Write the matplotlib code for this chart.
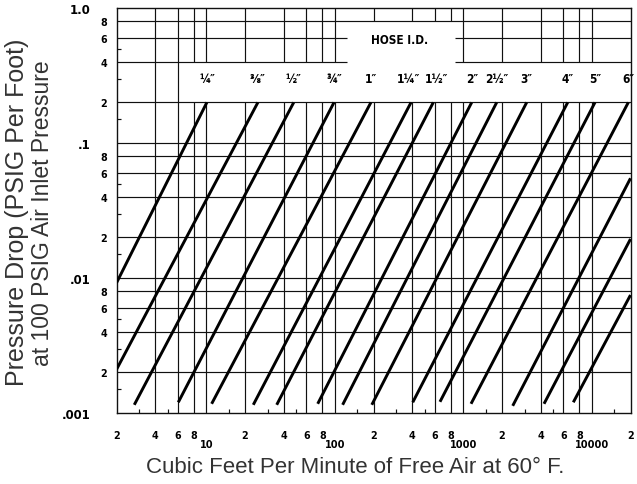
from __future__ import annotations

import matplotlib

matplotlib.use("Agg")
import matplotlib.pyplot as plt
from matplotlib import font_manager
from matplotlib.transforms import offset_copy


# hose sizes, one label over the top end of each labelled line
HOSE_LABELS = ["¼″", "⅜″", "½″", "¾″", "1″", "1¼″", "1½″", "2″", "2½″", "3″", "4″", "5″", "6″"]

# straight runs on log-log paper: low end and high end of each line (cfm, psig per foot)
# the last three lines carry no label and leave through the right edge
CFM_LOW = [2, 2, 2.75, 6.05, 11.0, 23.2, 35.3, 73.6, 115, 194, 404, 658, 1148, 2423, 4246, 7176]
PSI_LOW = [0.0092, 0.0021, 0.00115, 0.0012, 0.00117, 0.00115, 0.00115, 0.00117,
           0.00115, 0.00115, 0.0012, 0.00121, 0.00117, 0.00113, 0.00117, 0.0012]
CFM_HIGH = [10.1, 25.2, 47.9, 98.6, 191, 392, 584, 1162, 1819, 3113, 6493, 10586, 19230,
            20000, 20000, 20000]
PSI_HIGH = [0.2, 0.2, 0.2, 0.2, 0.2, 0.2, 0.2, 0.2, 0.2, 0.2, 0.2, 0.2, 0.2,
            0.0548, 0.01945, 0.00748]

X_DIGIT_TICKS = [2, 4, 6, 8, 20, 40, 60, 80, 200, 400, 600, 800, 2000, 4000, 6000, 8000, 20000]
X_DIGIT_LABELS = ["2", "4", "6", "8", "2", "4", "6", "8", "2", "4", "6", "8", "2", "4", "6", "8", "2"]
X_DECADE_TICKS = [10, 100, 1000, 10000]
X_DECADE_LABELS = ["10", "100", "1000", "10000"]

Y_DIGIT_TICKS = [0.002, 0.004, 0.006, 0.008, 0.02, 0.04, 0.06, 0.08, 0.2, 0.4, 0.6, 0.8]
Y_DIGIT_LABELS = ["2", "4", "6", "8", "2", "4", "6", "8", "2", "4", "6", "8"]
Y_DECADE_TICKS = [0.001, 0.01, 0.1, 1.0]
Y_DECADE_LABELS = [".001", ".01", ".1", "1.0"]

INK = "#111111"
TITLE_INK = "#333333"


def pick_lettering() -> tuple[list[str], str, bool]:
    """Narrow bold face for the chart lettering, if one is installed."""
    narrow = ("condensed", "semi-condensed", "extra-condensed", "ultra-condensed")
    found = []
    for f in font_manager.fontManager.ttflist:
        stretch = f.stretch if isinstance(f.stretch, str) else ""
        if stretch in narrow or "Narrow" in f.name or "Condensed" in f.name:
            found.append(f)
    if not found:
        return ["DejaVu Sans"], "normal", False
    found.sort(key=lambda f: (0 if "Sans" in f.name else 1, 0 if f.name.startswith("Liberation") else 1))
    best = found[0]
    stretch = best.stretch if isinstance(best.stretch, str) else "condensed"
    return [best.name, "DejaVu Sans"], stretch, True


LETTERING, STRETCH, HAVE_NARROW = pick_lettering()


def draw_grid(ax: plt.Axes) -> None:
    kw = dict(colors=INK, linewidth=0.85, zorder=1)
    xs = [m * 10**k for k in range(5) for m in (1, 2, 4, 6, 8)]
    xs = [x for x in xs if 2 < x < 20000]
    for x in xs:
        ax.vlines(x, 0.001, 0.2, **kw)
        if x in (4, 6):
            ax.vlines(x, 0.2, 1.0, **kw)
        elif x <= 100 or x >= 1000:
            ax.vlines(x, 0.4, 1.0, **kw)
        else:
            ax.vlines(x, 0.8, 1.0, **kw)

    ys = [m * 10.0**k for k in (-3, -2, -1) for m in (1, 2, 4, 6, 8)]
    ys = [y for y in ys if 0.001 < y < 0.99]
    for y in ys:
        if abs(y - 0.4) < 1e-9 or abs(y - 0.6) < 1e-9:
            # blank box round the "HOSE I.D." heading
            ax.hlines(y, 2, 124, **kw)
            ax.hlines(y, 860, 20000, **kw)
        else:
            ax.hlines(y, 2, 20000, **kw)

    # short inward ticks at 1.5, 3 and 5 of each decade
    tx = [m * 10**k for k in range(5) for m in (1.5, 3, 5)]
    tx = [x for x in tx if 2 < x < 20000]
    ax.vlines(tx, 0, 0.011, transform=ax.get_xaxis_transform(), colors=INK, linewidth=0.85)
    ty = [m * 10.0**k for k in (-3, -2, -1) for m in (1.5, 3, 5)]
    ax.hlines(ty, 0, 0.009, transform=ax.get_yaxis_transform(), colors=INK, linewidth=0.85)


def setup_axis(ax: plt.Axes) -> None:
    ax.set_xscale("log")
    ax.set_yscale("log")
    ax.set_xlim(2, 20000)
    ax.set_ylim(0.001, 1.0)

    text_kw = dict(family=LETTERING, fontweight="bold", fontstretch=STRETCH)
    big = 1.1 if HAVE_NARROW else 1.0
    ax.set_xticks(X_DECADE_TICKS, X_DECADE_LABELS, fontsize=7.8, **text_kw)
    ax.set_xticks(X_DIGIT_TICKS, X_DIGIT_LABELS, minor=True, fontsize=7 * big, **text_kw)
    ax.set_yticks(Y_DECADE_TICKS, Y_DECADE_LABELS, fontsize=8.5 * big, **text_kw)
    ax.set_yticks(Y_DIGIT_TICKS, Y_DIGIT_LABELS, minor=True, fontsize=7 * big, **text_kw)

    ax.tick_params(axis="x", which="major", length=0, pad=18.5, colors="black")
    ax.tick_params(axis="x", which="minor", length=0, pad=12, colors="black")
    ax.tick_params(axis="y", which="major", length=0, pad=19, colors="black")
    ax.tick_params(axis="y", which="minor", length=0, pad=7, colors="black")

    for spine in ax.spines.values():
        spine.set_linewidth(1.0)
        spine.set_color(INK)


def main() -> None:
    fig = plt.figure(figsize=(6.37, 4.85), dpi=100)
    ax = fig.add_axes([0.1829, 0.1464, 0.8069, 0.835])

    setup_axis(ax)
    draw_grid(ax)

    for i in range(len(CFM_LOW)):
        ax.plot(
            [CFM_LOW[i], CFM_HIGH[i]],
            [PSI_LOW[i], PSI_HIGH[i]],
            color="black",
            linewidth=2.1,
            solid_capstyle="butt",
            zorder=3,
        )

    label_size = 8.6 if HAVE_NARROW else 7.6
    for label, x in zip(HOSE_LABELS, CFM_HIGH):
        # the 1¼ and 1½ tops sit close together, so nudge those two labels apart
        nudge = {"1¼″": -2.0, "1½″": 2.0}.get(label, 0.0)
        tr = offset_copy(ax.transData, fig=fig, x=nudge, y=0, units="points")
        ax.text(
            x, 0.3, label, ha="center", va="center", fontsize=label_size, transform=tr,
            family=LETTERING, fontweight="bold", fontstretch=STRETCH, clip_on=False,
        )
    ax.text(321, 0.58, "HOSE I.D.", ha="center", va="center", fontsize=8.5,
            family=LETTERING, fontweight="bold", fontstretch=STRETCH)

    fig.text(0.027, 0.563, "Pressure Drop (PSIG Per Foot)", rotation=90, ha="center", va="center",
             fontsize=18, family="Liberation Sans", color=TITLE_INK)
    fig.text(0.0675, 0.561, "at 100 PSIG Air Inlet Pressure", rotation=90, ha="center", va="center",
             fontsize=16.5, family="Liberation Sans", color=TITLE_INK)
    fig.text(0.557, 0.024, "Cubic Feet Per Minute of Free Air at 60° F.", ha="center", va="baseline",
             fontsize=16, family="Liberation Sans", color=TITLE_INK)

    fig.savefig("out.png", dpi=100)


if __name__ == "__main__":
    main()
